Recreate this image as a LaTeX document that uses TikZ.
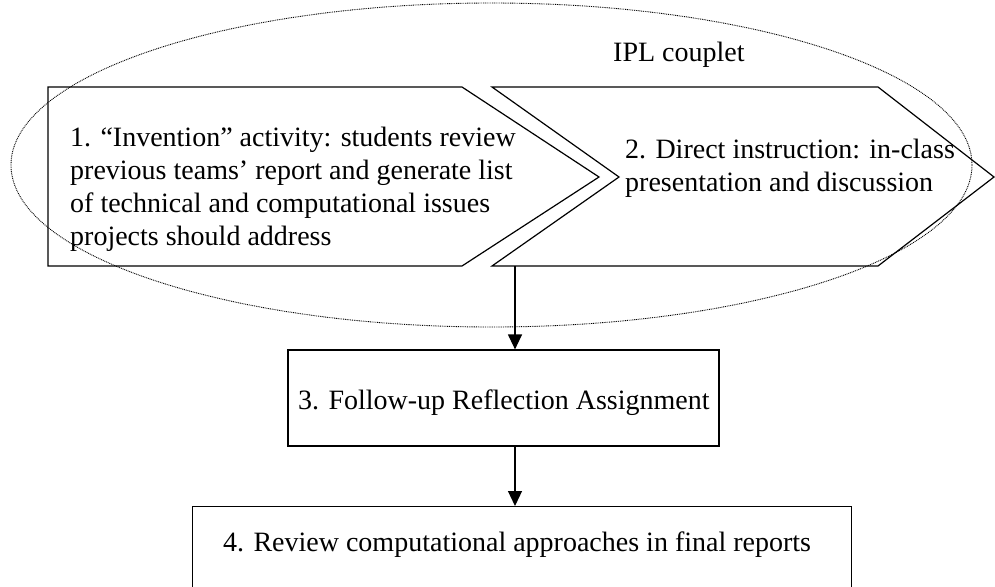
\documentclass[tikz,border=0pt]{standalone}
\usepackage{fontspec}
\setmainfont{Liberation Serif}
\usetikzlibrary{arrows.meta}
\begin{document}
\begin{tikzpicture}[x=1pt,y=-1pt,
  shapeline/.style={draw=black,line width=1.2pt,line join=miter},
  txt/.style={inner sep=0pt,anchor=base west,font=\fontsize{28}{33}\selectfont,align=left},
  boxnode/.style={draw=black,line width=1.2pt,inner sep=0pt},
  conn/.style={draw=black,line width=1.2pt,-{Triangle[length=15pt,width=14pt]}},
  ring/.style={draw=black,line width=0.9pt,dash pattern=on 0.9pt off 0.9pt}]
\useasboundingbox (0,0) rectangle (995,586);
% chevron 1
\draw[shapeline] (48,87) -- (462,87) -- (599,177) -- (462,266) -- (48,266) -- cycle;
% chevron 2
\draw[shapeline] (492,87) -- (878,87) -- (994,177) -- (878,266) -- (492,266) -- (619,177) -- cycle;
\coordinate (c2b) at (515,266);
% texts
\node[txt] (t1) at (70,245) {1. “Invention” activity: students review\\previous teams’ report and generate list\\of technical and computational issues\\projects should address};
\node[txt] (t2) at (625,191) {2. Direct instruction: in-class\\presentation and discussion};
\node[txt] (ipl) at (613,62) {IPL couplet};
% ellipse
\draw[ring] (491.5,165) ellipse [x radius=480.5, y radius=162];
% box 3
\node[boxnode,minimum width=431pt,minimum height=96pt] (b3) at (503.5,398) {};
\node[txt] (t3) at (298,409) {3. Follow-up Reflection Assignment};
% box 4
\node[boxnode,minimum width=659pt,minimum height=90pt,anchor=north west] (b4) at (192,506) {};
\node[txt] (t4) at (223,551) {4. Review computational approaches in final reports};
% connectors
\draw[conn] (c2b) -- (c2b |- b3.north);
\draw[conn] (c2b |- b3.south) -- (c2b |- b4.north);
\end{tikzpicture}
\end{document}
